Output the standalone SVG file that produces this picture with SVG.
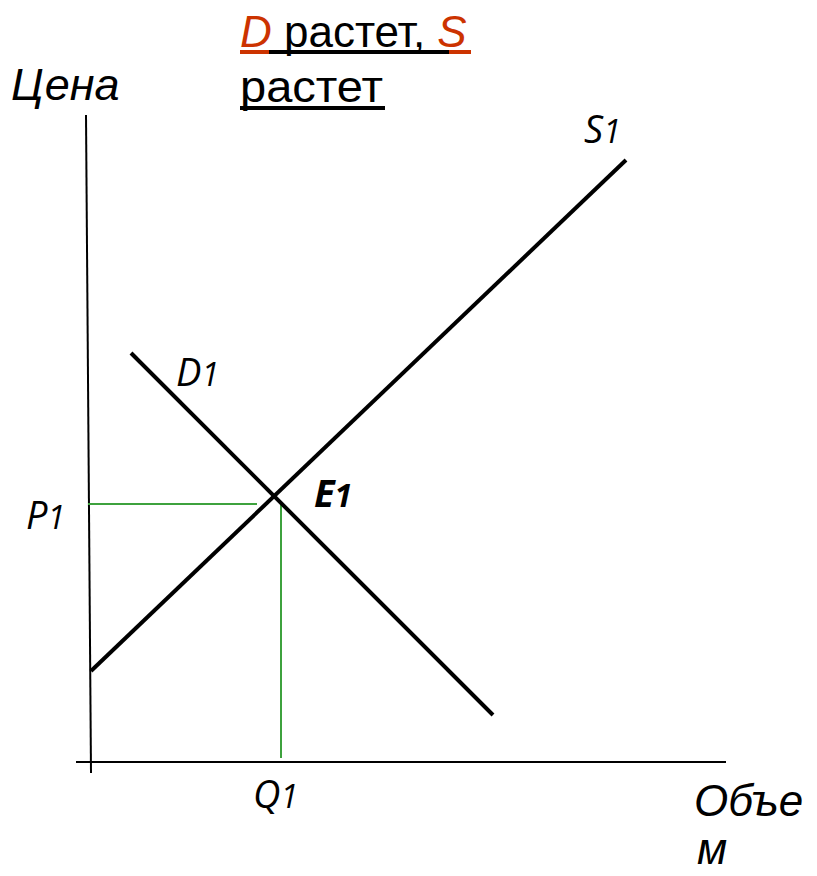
<svg xmlns="http://www.w3.org/2000/svg" width="817" height="876" viewBox="0 0 817 876">
<style>
.ax{stroke:#000;stroke-width:2;fill:none}
.cv{stroke:#000;stroke-width:4;fill:none}
.gr{stroke:#3ea23e;stroke-width:2;fill:none}
.lb{font-family:"Open Sans","DejaVu Sans",sans-serif;font-style:italic;fill:#000;font-size:38px}
.sb{font-size:32px}
.ti{font-family:"Liberation Sans",Arial,sans-serif;fill:#000}
</style>
<rect width="817" height="876" fill="#fff"/>
<g id="connectors">
<line class="ax" x1="86" y1="115" x2="91" y2="773"/>
<line class="ax" x1="76" y1="762" x2="726" y2="762"/>
<line class="gr" x1="88" y1="504" x2="257" y2="504"/>
<line class="gr" x1="281" y1="505" x2="281" y2="758"/>
<line class="cv" x1="91" y1="671" x2="626" y2="160"/>
<line class="cv" x1="131" y1="353" x2="493" y2="715"/>
</g>
<g id="title">
<text class="ti" x="240" y="47" font-size="44"><tspan fill="#cc3300" font-style="italic">D</tspan> растет, <tspan fill="#cc3300" font-style="italic">S</tspan></text>
<rect x="240" y="50" width="29" height="4" fill="#cc3300"/>
<rect x="269" y="50" width="180" height="4" fill="#000"/>
<rect x="449" y="50" width="22" height="4" fill="#cc3300"/>
<text class="ti" x="240" y="102" font-size="45" textLength="143" lengthAdjust="spacingAndGlyphs">растет</text>
<rect x="240" y="106" width="145" height="4" fill="#000"/>
</g>
<g id="price-label"><text class="ti" font-style="italic" x="11" y="100" font-size="45">Цена</text></g>
<g id="volume-label">
<text class="ti" font-style="italic" x="694" y="816" font-size="44">Объе</text>
<text class="ti" font-style="italic" x="697" y="864" font-size="44">м</text>
</g>
<g id="S1"><text class="lb" x="584" y="143">S<tspan class="sb">1</tspan></text></g>
<g id="D1"><text class="lb" x="176" y="386">D<tspan class="sb">1</tspan></text></g>
<g id="E1"><text class="lb" font-weight="bold" x="314" y="507">E<tspan class="sb">1</tspan></text></g>
<g id="P1"><text class="lb" x="26" y="529">P<tspan class="sb">1</tspan></text></g>
<g id="Q1"><text class="lb" x="253" y="808">Q<tspan class="sb">1</tspan></text></g>
</svg>
